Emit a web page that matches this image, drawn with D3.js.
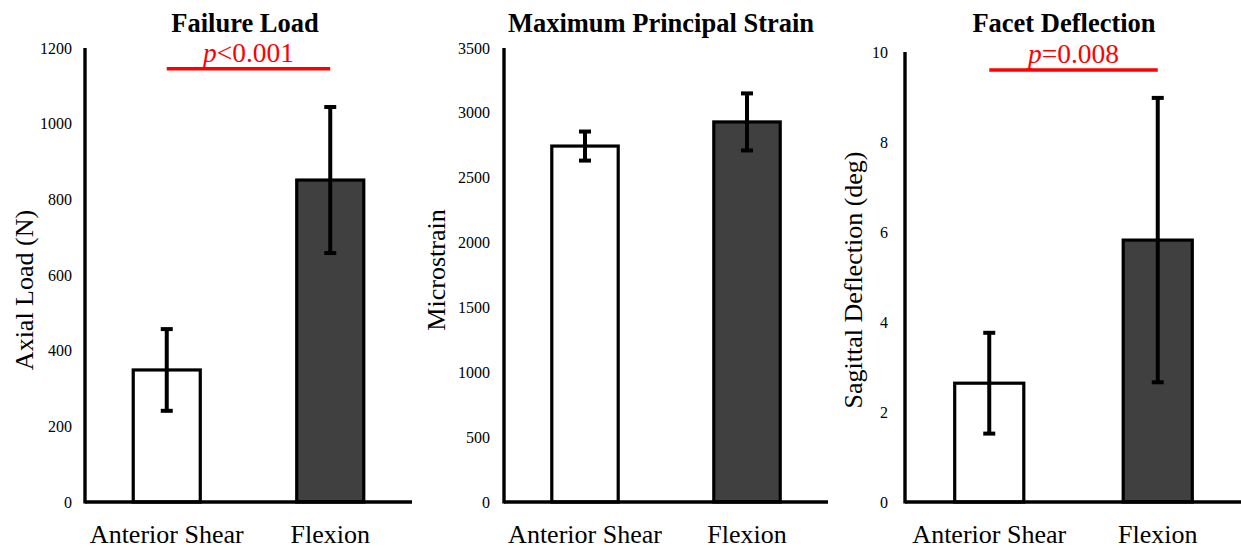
<!DOCTYPE html>
<html>
<head>
<meta charset="utf-8">
<script src="https://cdn.jsdelivr.net/npm/d3@7"></script>
<style>
  body { margin: 0; background: #fff; }
  svg { display: block; font-family: "Liberation Serif", "Times New Roman", serif; }
</style>
</head>
<body>
<svg width="1241" height="548"></svg>
<script>
const categories = ["Anterior Shear", "Flexion"];

const loadMeans = [349, 851];
const loadSD = [108, 193];
const loadTicks = [0, 200, 400, 600, 800, 1000, 1200];

const strainMeans = [2744, 2930];
const strainSD = [112, 220];
const strainTicks = [0, 500, 1000, 1500, 2000, 2500, 3000, 3500];

const deflMeans = [2.64, 5.82];
const deflSD = [1.12, 3.16];
const deflTicks = [0, 2, 4, 6, 8, 10];

const titles = ["Failure Load", "Maximum Principal Strain", "Facet Deflection"];
const yLabels = ["Axial Load (N)", "Microstrain", "Sagittal Deflection (deg)"];
const pSymbols = ["<", null, "="];
const pValues = ["0.001", null, "0.008"];
const pLevels = [1145, null, 9.6];

const barFill = ["#ffffff", "#404040"];

// panel frames (axis left, axis right, top, baseline)
const frames = [
  { left: 85, right: 412, top: 48, bottom: 502, pad: 13, labelX: 33, labelY: 290, titleX: 245 },
  { left: 504, right: 828, top: 48, bottom: 502, pad: 14, labelX: 445, labelY: 270, titleX: 661 },
  { left: 905, right: 1242, top: 52, bottom: 502, pad: 17, labelX: 862, labelY: 280, titleX: 1064 }
];

const panels = [
  { means: loadMeans, sd: loadSD, ticks: loadTicks },
  { means: strainMeans, sd: strainSD, ticks: strainTicks },
  { means: deflMeans, sd: deflSD, ticks: deflTicks }
];

const svg = d3.select("svg");

panels.forEach(function (p, i) {
  const f = frames[i];
  const g = svg.append("g");

  const x = d3.scaleBand()
    .domain(categories)
    .range([f.left, f.right])
    .paddingInner(0.59)
    .paddingOuter(0.295);

  const y = d3.scaleLinear()
    .domain([0, d3.max(p.ticks)])
    .range([f.bottom, f.top]);

  // tick labels
  const ax = g.append("g")
    .attr("transform", "translate(" + f.left + ",0)")
    .call(d3.axisLeft(y).tickValues(p.ticks).tickSize(0).tickPadding(f.pad).tickFormat(d3.format("d")));
  ax.select(".domain").remove();
  ax.attr("font-size", 16).attr("font-family", null);
  ax.selectAll("text")
    .attr("font-size", 16)
    .attr("fill", "#000");

  // bars
  g.selectAll(".bar")
    .data(p.means)
    .enter().append("rect")
    .attr("class", "bar")
    .attr("x", function (d, j) { return x(categories[j]); })
    .attr("y", function (d) { return y(d); })
    .attr("width", x.bandwidth())
    .attr("height", function (d) { return y(0) - y(d); })
    .attr("fill", function (d, j) { return barFill[j]; })
    .attr("stroke", "#000")
    .attr("stroke-width", 3.2);

  // error bars
  const cx = function (j) { return x(categories[j]) + x.bandwidth() / 2; };
  p.means.forEach(function (m, j) {
    const hi = y(m + p.sd[j]);
    const lo = y(m - p.sd[j]);
    g.append("line")
      .attr("x1", cx(j)).attr("x2", cx(j))
      .attr("y1", hi).attr("y2", lo)
      .attr("stroke", "#000").attr("stroke-width", 4);
    [hi, lo].forEach(function (yy) {
      g.append("line")
        .attr("x1", cx(j) - 6).attr("x2", cx(j) + 6)
        .attr("y1", yy).attr("y2", yy)
        .attr("stroke", "#000").attr("stroke-width", 4);
    });
  });

  // axis lines
  g.append("line")
    .attr("x1", f.left).attr("x2", f.left)
    .attr("y1", f.top).attr("y2", f.bottom + 1.5)
    .attr("stroke", "#000").attr("stroke-width", 3.4);
  g.append("line")
    .attr("x1", f.left).attr("x2", f.right)
    .attr("y1", f.bottom).attr("y2", f.bottom)
    .attr("stroke", "#000").attr("stroke-width", 3.4);

  // category labels
  g.selectAll(".cat")
    .data(categories)
    .enter().append("text")
    .attr("class", "cat")
    .attr("x", function (d, j) { return cx(j); })
    .attr("y", 543)
    .attr("text-anchor", "middle")
    .attr("font-size", 26)
    .text(function (d) { return d; });

  // title
  g.append("text")
    .attr("x", f.titleX)
    .attr("y", 32)
    .attr("text-anchor", "middle")
    .attr("font-size", 26.5)
    .attr("font-weight", "bold")
    .text(titles[i]);

  // y label
  g.append("text")
    .attr("transform", "translate(" + f.labelX + "," + f.labelY + ") rotate(-90)")
    .attr("text-anchor", "middle")
    .attr("font-size", 26)
    .text(yLabels[i]);

  // significance
  if (pValues[i]) {
    const ly = y(pLevels[i]);
    g.append("line")
      .attr("x1", cx(0)).attr("x2", cx(1))
      .attr("y1", ly).attr("y2", ly)
      .attr("stroke", "#ff0000").attr("stroke-width", 3.4);
    const t = g.append("text")
      .attr("x", (cx(0) + cx(1)) / 2)
      .attr("y", ly - 7)
      .attr("text-anchor", "middle")
      .attr("font-size", 27.5)
      .attr("fill", "#ff0000");
    t.append("tspan").attr("font-style", "italic").text("p");
    t.append("tspan").text(pSymbols[i] + pValues[i]);
  }
});
</script>
</body>
</html>
